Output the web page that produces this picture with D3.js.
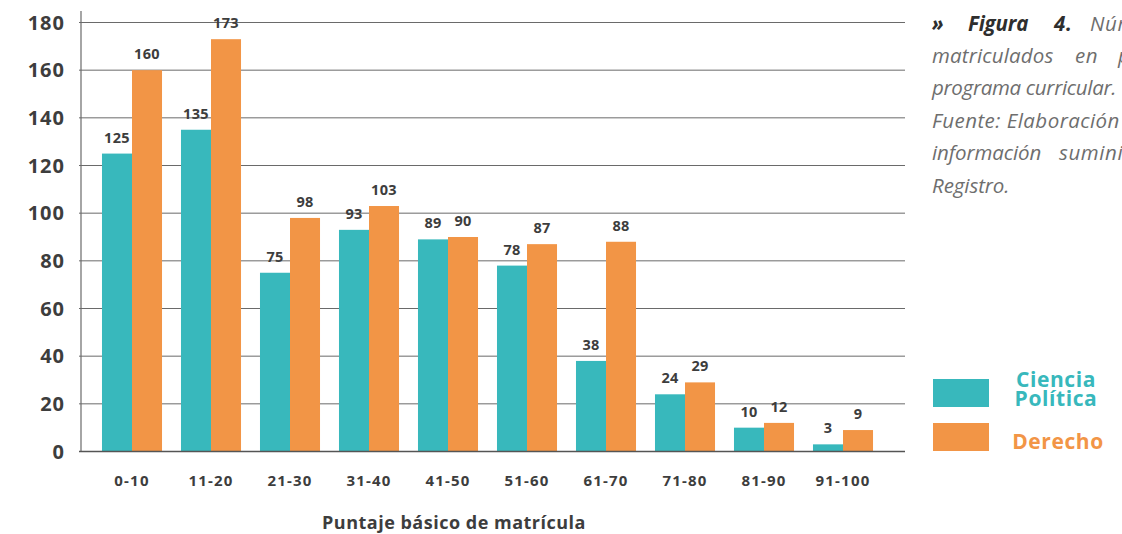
<!DOCTYPE html>
<html>
<head>
<meta charset="utf-8">
<script src="https://cdn.jsdelivr.net/npm/d3@7"></script>
<style>
  html, body { margin: 0; padding: 0; background: #fff; }
  svg { display: block; }
</style>
</head>
<body>
<svg id="chart" width="1122" height="534"></svg>
<script>
const categories = ["0-10", "11-20", "21-30", "31-40", "41-50", "51-60", "61-70", "71-80", "81-90", "91-100"];
const cienciaPolitica = [125, 135, 75, 93, 89, 78, 38, 24, 10, 3];
const derecho = [160, 173, 98, 103, 90, 87, 88, 29, 12, 9];
const yTicks = [0, 20, 40, 60, 80, 100, 120, 140, 160, 180];
const seriesNames = ["Ciencia Política", "Derecho"];
const colors = ["#38b8bc", "#f29546"];

const svg = d3.select("#chart");
const font = "'Open Sans', 'Noto Sans', sans-serif";
const dark = "#3d3d3d";

const x0 = d3.scaleBand()
  .domain(categories)
  .range([92.5, 882.5])
  .paddingInner(0.24)
  .paddingOuter(0.12);

const x1 = d3.scaleBand()
  .domain(seriesNames)
  .range([0, x0.bandwidth()]);

const y = d3.scaleLinear()
  .domain([0, 180])
  .range([451.5, 22.5]);

// gridlines
svg.append("g")
  .selectAll("line")
  .data(yTicks.filter(d => d > 0))
  .join("line")
    .attr("x1", 79)
    .attr("x2", 905)
    .attr("y1", d => y(d))
    .attr("y2", d => y(d))
    .attr("stroke", "#6a6a6a")
    .attr("stroke-width", 1);

// y labels
svg.append("g")
  .selectAll("text")
  .data(yTicks)
  .join("text")
    .attr("x", 65)
    .attr("y", d => y(d))
    .attr("dy", "0.36em")
    .attr("text-anchor", "end")
    .attr("font-family", font)
    .attr("font-weight", 700)
    .attr("font-size", 20)
    .attr("letter-spacing", 1)
    .attr("fill", dark)
    .text(d => d);

// bars
const rows = categories.map((c, i) => ({cat: c, vals: [cienciaPolitica[i], derecho[i]]}));

const groups = svg.append("g")
  .selectAll("g")
  .data(rows)
  .join("g")
    .attr("transform", d => `translate(${x0(d.cat)},0)`);

groups.selectAll("rect")
  .data(d => d.vals.map((v, j) => ({name: seriesNames[j], v, j})))
  .join("rect")
    .attr("x", d => x1(d.name))
    .attr("width", x1.bandwidth())
    .attr("y", d => y(d.v))
    .attr("height", d => y(0) - y(d.v))
    .attr("fill", d => colors[d.j]);

groups.selectAll("text")
  .data(d => d.vals.map((v, j) => ({name: seriesNames[j], v, j})))
  .join("text")
    .attr("x", d => x1(d.name) + x1.bandwidth() / 2)
    .attr("y", d => y(d.v) - 11)
    .attr("text-anchor", "middle")
    .attr("font-family", font)
    .attr("font-weight", 700)
    .attr("font-size", 14.5)
    .attr("letter-spacing", 0.3)
    .attr("fill", dark)
    .text(d => d.v);

// axes lines
svg.append("line")
  .attr("x1", 81).attr("x2", 81)
  .attr("y1", 11).attr("y2", y(0))
  .attr("stroke", "#6a6a6a").attr("stroke-width", 1.2);
svg.append("line")
  .attr("x1", 79).attr("x2", 905)
  .attr("y1", y(0)).attr("y2", y(0))
  .attr("stroke", "#555").attr("stroke-width", 1.5);

// x labels
svg.append("g")
  .selectAll("text")
  .data(categories)
  .join("text")
    .attr("x", d => x0(d) + x0.bandwidth() / 2)
    .attr("y", 486)
    .attr("text-anchor", "middle")
    .attr("font-family", font)
    .attr("font-weight", 700)
    .attr("font-size", 15)
    .attr("letter-spacing", 1.2)
    .attr("fill", dark)
    .text(d => d);

svg.append("text")
  .attr("x", 454)
  .attr("y", 529)
  .attr("text-anchor", "middle")
  .attr("font-family", font)
  .attr("font-weight", 700)
  .attr("font-size", 18)
  .attr("letter-spacing", 0.5)
  .attr("fill", dark)
  .text("Puntaje básico de matrícula");

// legend
const legend = svg.append("g");
legend.selectAll("rect")
  .data(seriesNames)
  .join("rect")
    .attr("x", 933)
    .attr("y", (d, i) => 379 + i * 44)
    .attr("width", 56)
    .attr("height", 28)
    .attr("fill", (d, i) => colors[i]);

const legText = legend.append("text")
  .attr("text-anchor", "middle")
  .attr("font-family", font)
  .attr("font-weight", 700)
  .attr("font-size", 21)
  .attr("letter-spacing", 0.6)
  .attr("fill", colors[0]);
legText.append("tspan").attr("x", 1056).attr("y", 387).text("Ciencia");
legText.append("tspan").attr("x", 1056).attr("y", 406).text("Política");

legend.append("text")
  .attr("x", 1058)
  .attr("y", 449)
  .attr("text-anchor", "middle")
  .attr("font-family", font)
  .attr("font-weight", 700)
  .attr("font-size", 21)
  .attr("letter-spacing", 0.6)
  .attr("fill", colors[1])
  .text("Derecho");

// caption (justified lines, cut at the right edge)
const captionLines = [
  [{t: "»", x: 932, b: true}, {t: "Figura", x: 968, b: true, w: 61}, {t: "4.", x: 1054, b: true}, {t: "Número", x: 1090}],
  [{t: "matriculados", x: 932, w: 122}, {t: "en", x: 1075}, {t: "primer", x: 1118}],
  [{t: "programa curricular.", x: 932, w: 185}],
  [{t: "Fuente: Elaboración", x: 932, w: 188}],
  [{t: "información", x: 932, w: 110}, {t: "suministrada", x: 1059}],
  [{t: "Registro.", x: 932, w: 78}]
];

const cap = svg.append("g")
  .attr("font-family", font)
  .attr("font-style", "italic")
  .attr("font-size", 20.5);

captionLines.forEach((line, i) => {
  line.forEach(w => {
    const t = cap.append("text")
      .attr("x", w.x)
      .attr("y", 30.5 + i * 32.4)
      .attr("font-weight", w.b ? 700 : 400)
      .attr("fill", w.b ? "#2e2e2e" : "#6e6e6e")
      .attr("letter-spacing", 0.6)
      .text(w.t);
    if (w.w) t.attr("textLength", w.w).attr("lengthAdjust", "spacing");
  });
});
</script>
</body>
</html>
